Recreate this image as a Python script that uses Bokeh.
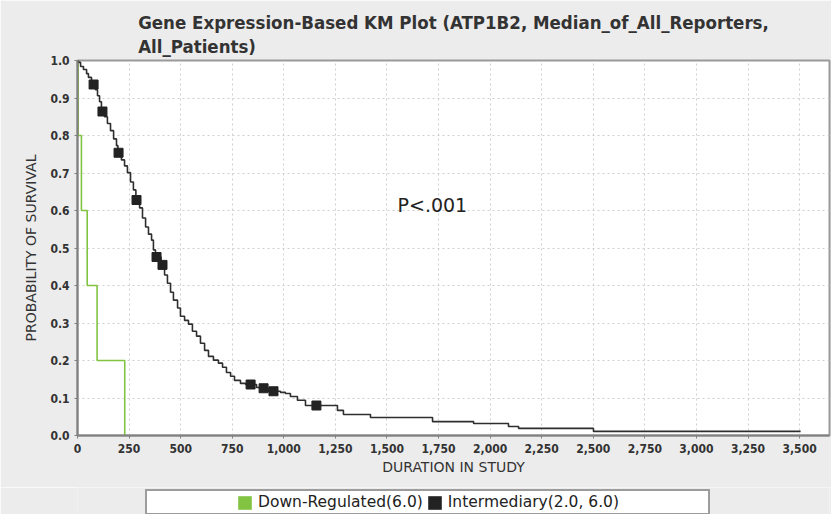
from bokeh.plotting import figure
from bokeh.layouts import column
from bokeh.models import (Legend, LegendItem, Label, NumeralTickFormatter,
                          FixedTicker, Range1d)
from bokeh.embed import file_html
from bokeh.resources import INLINE

# ---- data ----
down_times = [0, 3, 19, 47, 95, 229]
down_surv = [1.0, 0.8, 0.6, 0.4, 0.2, 0.0]

inter_times = [0, 5, 15, 29, 44, 53, 68, 75, 87, 97, 107, 116, 131, 145, 160,
               175, 189, 196, 213, 228, 242, 257, 271, 283, 301, 315, 330, 344,
               359, 368, 378, 405, 422, 436, 451, 465, 485, 499, 519, 538, 557,
               577, 596, 616, 635, 659, 683, 703, 722, 742, 761, 790, 815, 868,
               895, 925, 984, 1008, 1032, 1066, 1105, 1260, 1289, 1420, 1721,
               1920, 2089, 2138, 2501]
inter_surv = [1.0, 0.995, 0.984, 0.976, 0.965, 0.955, 0.941, 0.936, 0.922,
              0.906, 0.890, 0.864, 0.850, 0.832, 0.813, 0.791, 0.773, 0.754,
              0.735, 0.719, 0.701, 0.676, 0.655, 0.628, 0.607, 0.580, 0.556,
              0.537, 0.521, 0.495, 0.476, 0.455, 0.428, 0.406, 0.382, 0.361,
              0.340, 0.318, 0.307, 0.297, 0.278, 0.265, 0.246, 0.227, 0.211,
              0.201, 0.193, 0.182, 0.168, 0.158, 0.147, 0.139, 0.136, 0.128,
              0.126, 0.118, 0.115, 0.112, 0.104, 0.094, 0.080, 0.067, 0.056,
              0.048, 0.037, 0.032, 0.024, 0.019, 0.011]
inter_last_time = 3505

cens_times = [78, 121, 199, 286, 383, 412, 839, 902, 950, 1158]
cens_surv = [0.936, 0.864, 0.754, 0.628, 0.476, 0.455, 0.136, 0.126, 0.118, 0.080]

x_ticks = list(range(0, 3501, 250))
y_ticks = [i / 10 for i in range(11)]

legend_labels = ["Down-Regulated(6.0)", "Intermediary(2.0, 6.0)"]

GREEN = "#82c341"
DARK = "#2e2e2e"
BG = "#ececec"
COND = "DejaVu Sans Condensed"

p = figure(width=831, height=487, output_backend="svg", toolbar_location=None,
           x_range=Range1d(0, 3645), y_range=Range1d(0, 1.0),
           min_border_left=77, min_border_right=2, min_border_top=60,
           min_border_bottom=52)

p.background_fill_color = "white"
p.border_fill_color = BG
p.outline_line_color = "#9a9a9a"
p.outline_line_width = 2

p.title.text = "Gene Expression-Based KM Plot (ATP1B2, Median_of_All_Reporters,\nAll_Patients)"
p.title.align = "center"
p.title.standoff = 7
p.title.text_font = COND
p.title.text_font_size = "18.5px"
p.title.text_font_style = "bold"
p.title.text_color = "#333333"
p.title.text_line_height = 1.12

# curves
p.step(down_times, down_surv, mode="after", line_color=GREEN, line_width=1.6)
p.step(inter_times + [inter_last_time], inter_surv + [inter_surv[-1]],
       mode="after", line_color=DARK, line_width=1.6)
p.scatter(cens_times, cens_surv, marker="square", size=9,
          fill_color="#222222", line_color="#222222")

p.add_layout(Label(x=1720, y=0.615, text="P<.001", text_font="DejaVu Sans",
                   text_font_size="19px", text_color="#222222",
                   text_align="center", text_baseline="middle"))

# axes
for ax in (p.xaxis, p.yaxis):
    ax.axis_line_color = "#808080"
    ax.axis_line_width = 2
    ax.major_tick_line_color = "#808080"
    ax.major_tick_out = 3
    ax.major_tick_in = 0
    ax.minor_tick_out = 0
    ax.minor_tick_in = 0
    ax.major_label_text_font = COND
    ax.major_label_text_font_size = "12px"
    ax.major_label_text_font_style = "bold"
    ax.major_label_text_color = "#333333"
    ax.axis_label_text_font = "DejaVu Sans"
    ax.axis_label_text_font_size = "14px"
    ax.axis_label_text_font_style = "normal"
    ax.axis_label_text_color = "#333333"

p.xaxis.ticker = FixedTicker(ticks=x_ticks)
p.xaxis.formatter = NumeralTickFormatter(format="0,0")
p.yaxis.ticker = FixedTicker(ticks=y_ticks)
p.yaxis.formatter = NumeralTickFormatter(format="0.0")
p.xaxis.axis_label = "DURATION IN STUDY"
p.yaxis.axis_label = "PROBABILITY OF SURVIVAL"
p.xaxis.axis_label_standoff = 3
p.yaxis.axis_label_standoff = 8

for g in (p.xgrid, p.ygrid):
    g.grid_line_color = "#cfcfcf"
    g.grid_line_dash = "2 3"
    g.grid_line_width = 1

# ---- legend strip below the chart (same side borders as the chart) ----
lf = figure(width=831, height=27, output_backend="svg", toolbar_location=None,
            x_range=Range1d(0, 1), y_range=Range1d(0, 1),
            x_axis_type=None, y_axis_type=None,
            min_border_left=77, min_border_right=2, min_border_top=0,
            min_border_bottom=0)
lf.xgrid.visible = False
lf.ygrid.visible = False
lf.background_fill_color = BG
lf.border_fill_color = BG
lf.outline_line_color = None

# swatch renderers: zero-area quads (only their legend glyphs show)
r_down = lf.quad(left=[down_times[0]], right=[down_times[0]],
                 bottom=[down_surv[0]], top=[down_surv[0]],
                 fill_color=GREEN, line_color=None)
r_int = lf.quad(left=[inter_times[0]], right=[inter_times[0]],
                bottom=[inter_surv[0]], top=[inter_surv[0]],
                fill_color="#222222", line_color=None)
r_pad = lf.quad(left=[inter_times[0]], right=[inter_times[0]],
                bottom=[inter_surv[0]], top=[inter_surv[0]],
                fill_alpha=0, line_alpha=0)

legend = Legend(items=[LegendItem(label="", renderers=[r_pad]),
                       LegendItem(label=legend_labels[0], renderers=[r_down]),
                       LegendItem(label=legend_labels[1], renderers=[r_int]),
                       LegendItem(label="", renderers=[r_pad])],
                orientation="horizontal", location=(68, -1), padding=2,
                margin=0, spacing=3, glyph_width=17, glyph_height=17,
                label_height=14, label_width=62, label_standoff=5,
                label_text_font="DejaVu Sans", label_text_font_size="15.5px",
                label_text_color="#222222",
                border_line_color="#3a3a3a", border_line_width=2,
                background_fill_color="white", background_fill_alpha=1.0)
lf.add_layout(legend, "center")

layout = column(p, lf, spacing=0)
open("out.html", "w").write(file_html(layout, INLINE))
